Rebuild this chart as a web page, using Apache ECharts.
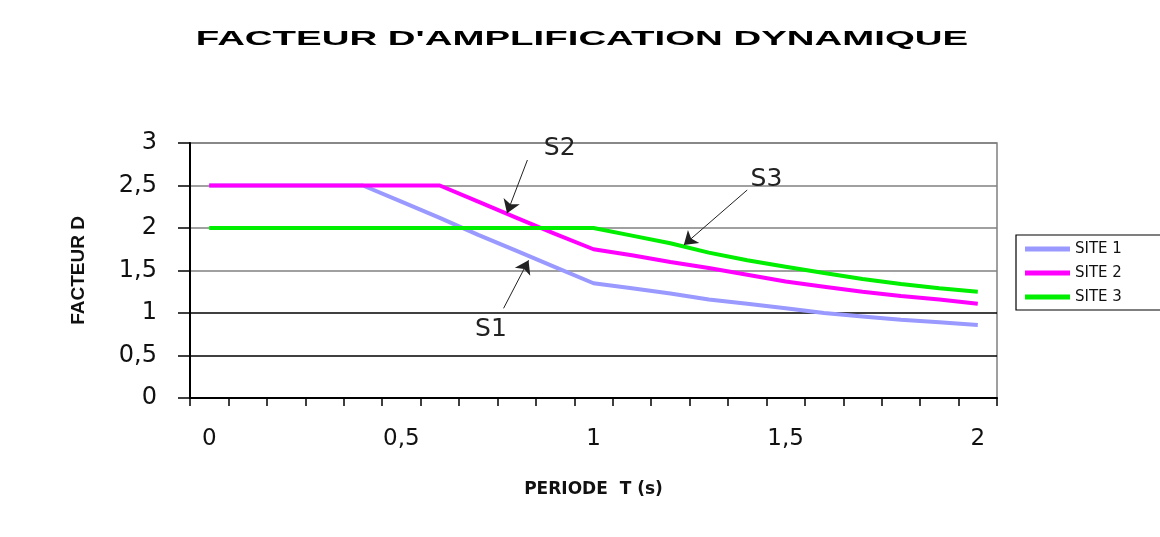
<!DOCTYPE html>
<html>
<head>
<meta charset="utf-8">
<script src="https://cdn.jsdelivr.net/npm/echarts@6/dist/echarts.min.js"></script>
<style>
html,body{margin:0;padding:0;background:#fff;}
#chart{width:1160px;height:537px;}
</style>
</head>
<body>
<div id="chart"></div>
<script>
// Periods T (s), one category per 0.1 s
const periodLabels = ["0","0,1","0,2","0,3","0,4","0,5","0,6","0,7","0,8","0,9","1",
                      "1,1","1,2","1,3","1,4","1,5","1,6","1,7","1,8","1,9","2"];
const seriesNames = ["SITE 1","SITE 2","SITE 3"];
const site1 = [2.5,2.5,2.5,2.5,2.5,2.31,2.12,1.92,1.73,1.54,1.35,1.29,1.23,1.16,1.11,1.055,1.00,0.96,0.92,0.89,0.86];
const site2 = [2.5,2.5,2.5,2.5,2.5,2.5,2.5,2.31,2.12,1.93,1.75,1.68,1.60,1.53,1.45,1.37,1.31,1.25,1.20,1.16,1.11];
const site3 = [2,2,2,2,2,2,2,2,2,2,2,1.91,1.82,1.71,1.62,1.545,1.47,1.40,1.34,1.29,1.25];
const yTicks = [0,0.5,1,1.5,2,2.5,3];

// Annotations in data units (T, D)
const annotLabels = ["S1","S2","S3"];
const annotTextPos = [[0.733,0.81],[0.912,2.935],[1.45,2.57]];
const annotArrowFrom = [[0.766,1.055],[0.828,2.80],[1.40,2.447]];
const annotArrowTo = [[0.831,1.62],[0.775,2.173],[1.235,1.80]];

const colors = ["#9999ff","#ff00ff","#00ee00"];
const gridLineColors = ["#000","#000","#000","#808080","#808080","#808080","#808080"];

const chart = echarts.init(document.getElementById('chart'), null, {renderer:'canvas'});
const comma = v => String(v).replace('.', ',');

const lineSeries = [site1, site2, site3].map((d, i) => ({
  name: seriesNames[i],
  type: 'line',
  data: d,
  xAxisIndex: 0,
  yAxisIndex: 0,
  symbol: 'none',
  showSymbol: false,
  smooth: false,
  lineStyle: {color: colors[i], width: 4},
  itemStyle: {color: colors[i]},
  z: 3
}));

const annotSeries = {
  type: 'line',
  name: 'annotations',
  xAxisIndex: 1,
  yAxisIndex: 0,
  data: [],
  silent: true,
  color: '#111',
  itemStyle: {color: '#111'},
  z: 5,
  markLine: {
    silent: true,
    animation: false,
    symbol: ['none','arrow'],
    symbolSize: 13,
    itemStyle: {color: '#111'},
    lineStyle: {color: '#222', width: 1, type: 'solid', opacity: 1},
    label: {show: false},
    emphasis: {disabled: true},
    data: annotArrowFrom.map((p, i) => [{coord: p}, {coord: annotArrowTo[i]}])
  },
  markPoint: {
    silent: true,
    animation: false,
    symbol: 'rect',
    symbolSize: 1,
    itemStyle: {color: 'rgba(0,0,0,0)'},
    label: {
      show: true, position: 'inside', color: '#222',
      fontFamily: 'DejaVu Sans', fontSize: 25,
      formatter: p => p.name
    },
    data: annotTextPos.map((p, i) => ({name: annotLabels[i], coord: p}))
  }
};

const option = {
  animation: false,
  backgroundColor: '#fff',
  graphic: [{
    type: 'text',
    x: 582, y: 40,
    scaleX: 1.97,
    style: {
      text: "FACTEUR D'AMPLIFICATION DYNAMIQUE",
      font: 'bold 19.5px "Liberation Sans", Arial, sans-serif',
      fill: '#000',
      align: 'center',
      verticalAlign: 'middle'
    }
  }],
  grid: {
    left: 190, right: 163, top: 143, bottom: 139,
    show: true, borderColor: '#808080', borderWidth: 1.5,
    backgroundColor: 'transparent',
    containLabel: false,
    outerBoundsMode: 'none'
  },
  legend: {
    show: true,
    data: seriesNames,
    orient: 'vertical',
    left: 1016, top: 235,
    icon: 'rect',
    itemWidth: 45, itemHeight: 5,
    itemGap: 6,
    padding: [5, 60, 4, 9],
    borderColor: '#000', borderWidth: 1.2,
    textStyle: {fontFamily: 'DejaVu Sans', fontSize: 15, color: '#111', lineHeight: 18}
  },
  xAxis: [{
    type: 'category',
    data: periodLabels,
    boundaryGap: true,
    name: 'PERIODE  T (s)',
    nameLocation: 'middle',
    nameGap: 83,
    nameTextStyle: {fontFamily: 'DejaVu Sans', fontWeight: 'bold', fontSize: 17, color: '#111'},
    axisLine: {show: true, onZero: false, lineStyle: {color: '#000', width: 2}},
    axisTick: {show: true, interval: 0, length: 8, lineStyle: {color: '#000', width: 1.5}},
    axisLabel: {interval: 4, margin: 30, fontFamily: 'DejaVu Sans', fontSize: 23, color: '#111'},
    splitLine: {show: false}
  }, {
    type: 'value',
    min: -0.05, max: 2.05,
    show: false,
    axisLine: {onZero: false},
    gridIndex: 0
  }],
  yAxis: {
    type: 'value',
    min: 0, max: 3, interval: 0.5,
    name: 'FACTEUR D',
    nameLocation: 'middle',
    nameGap: 102,
    nameTextStyle: {fontFamily: 'Liberation Sans', fontWeight: 'bold', fontSize: 19, color: '#111'},
    axisLine: {show: true, onZero: false, lineStyle: {color: '#000', width: 2}},
    axisTick: {show: true, length: 12, lineStyle: {color: '#000', width: 1.5}},
    axisLabel: {margin: 33, fontFamily: 'DejaVu Sans', fontSize: 24, color: '#111',
                formatter: v => comma(v), customValues: yTicks},
    splitLine: {show: true, lineStyle: {color: gridLineColors, width: 1.5}}
  },
  series: [...lineSeries, annotSeries]
};
chart.setOption(option);
</script>
</body>
</html>
